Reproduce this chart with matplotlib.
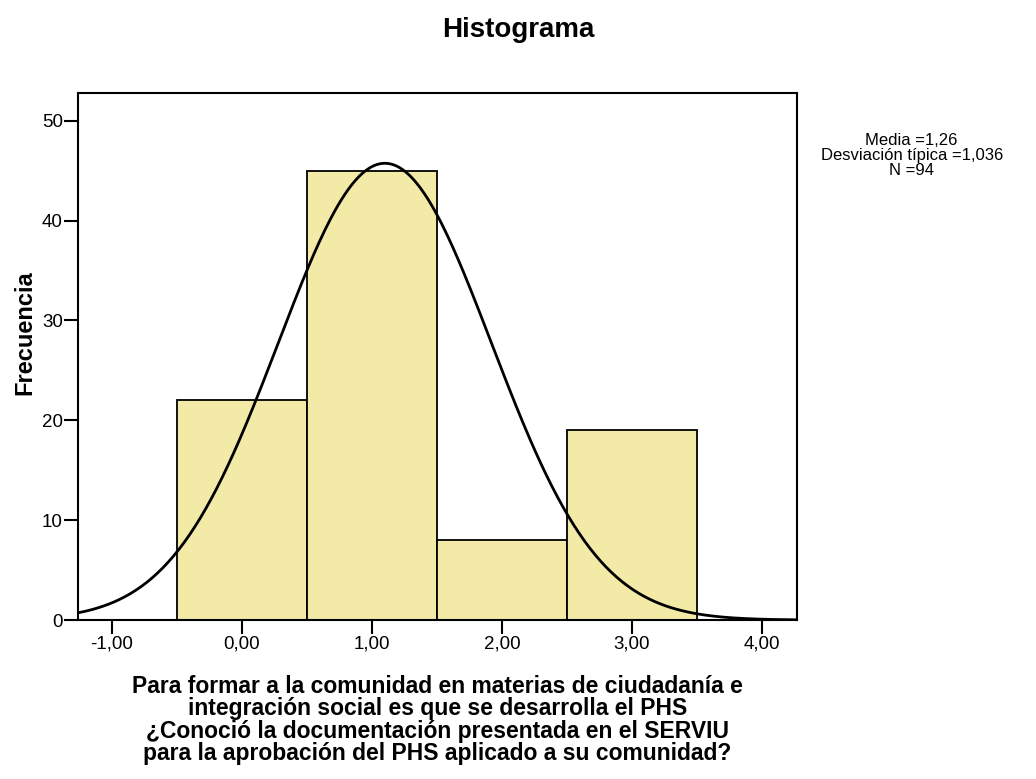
import matplotlib
matplotlib.use("Agg")
import matplotlib.pyplot as plt
import numpy as np

plt.rcParams['font.family'] = ['Liberation Sans', 'DejaVu Sans']

# histogram bins (centres) and counts
bin_centers = [0, 1, 2, 3]
counts = [22, 45, 8, 19]
bin_width = 1.0

# normal curve as drawn in the chart
curve_mean = 1.1
curve_sd = 0.82
n_total = 94

x_ticks = [-1, 0, 1, 2, 3, 4]
y_ticks = [0, 10, 20, 30, 40, 50]
stats_text = "Media =1,26\nDesviación típica =1,036\nN =94"
x_label = ("Para formar a la comunidad en materias de ciudadanía e\n"
           "integración social es que se desarrolla el PHS\n"
           "¿Conoció la documentación presentada en el SERVIU\n"
           "para la aprobación del PHS aplicado a su comunidad?")

fig = plt.figure(figsize=(10.36, 7.79), dpi=100)
ax = fig.add_axes([0.0753, 0.204, 0.694, 0.677])

ax.bar(bin_centers, counts, width=bin_width, color='#F2EAA6',
       edgecolor='black', linewidth=1.3, zorder=2)

xs = np.linspace(-1.26, 4.27, 400)
ys = n_total * bin_width / (curve_sd * np.sqrt(2 * np.pi)) * np.exp(-0.5 * ((xs - curve_mean) / curve_sd) ** 2)
ax.plot(xs, ys, color='black', linewidth=2, zorder=3)

ax.set_xlim(-1.26, 4.27)
ax.set_ylim(0, 52.8)
ax.set_xticks(x_ticks)
ax.set_xticklabels([f"{v:.2f}".replace('.', ',') for v in x_ticks])
ax.set_yticks(y_ticks)
ax.set_yticklabels([str(v) for v in y_ticks])
ax.tick_params(axis='both', direction='out', length=10, width=1.5, labelsize=13.5, pad=1)
for s in ax.spines.values():
    s.set_linewidth(1.5)

ax.set_ylabel("Frecuencia", fontsize=17, fontweight='bold')
ax.yaxis.set_label_coords(-0.058, 0.545)
ax.set_xlabel(x_label, fontsize=16.5, fontweight='bold', labelpad=16, linespacing=0.97)

fig.text(0.5, 0.962, "Histograma", ha='center', va='center', fontsize=20, fontweight='bold')
fig.text(0.88, 0.80, stats_text, ha='center', va='center', fontsize=12, linespacing=1.0)

fig.savefig("out.png", dpi=100)
